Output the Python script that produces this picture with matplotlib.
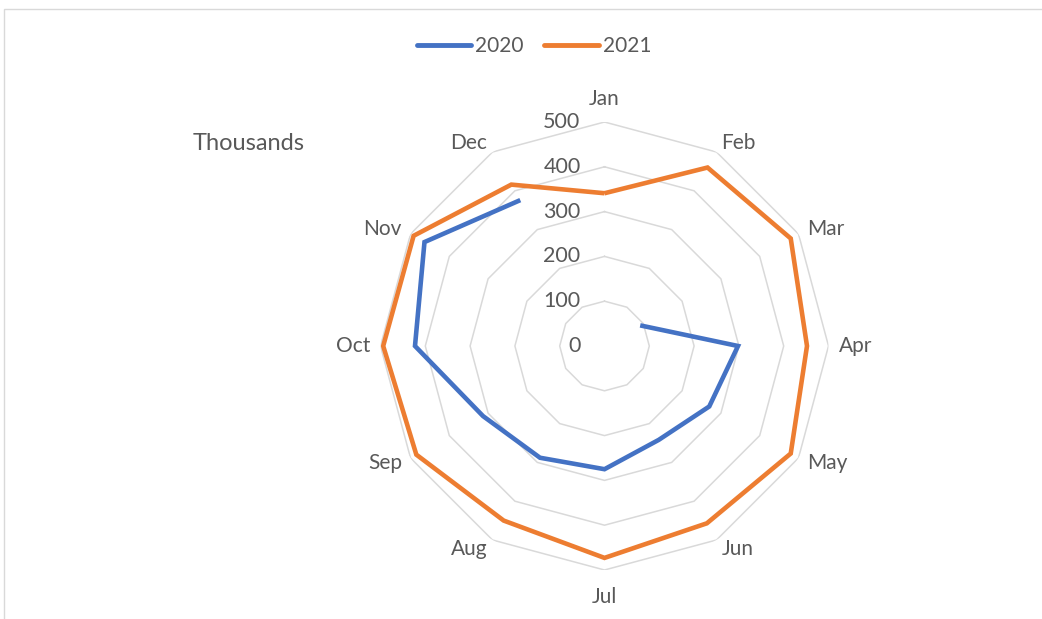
import numpy as np
import matplotlib
matplotlib.use("Agg")
import matplotlib.pyplot as plt
from matplotlib.patches import Rectangle
from matplotlib.lines import Line2D

# Monthly values, in thousands
months = ["Jan", "Feb", "Mar", "Apr", "May", "Jun",
          "Jul", "Aug", "Sep", "Oct", "Nov", "Dec"]
values_2020 = [np.nan, np.nan, 92, 298, 270, 242, 275, 288, 313, 423, 464, 376]
values_2021 = [341, 460, 480, 452, 480, 457, 473, 450, 485, 494, 492, 416]
ring_values = [0, 100, 200, 300, 400, 500]
series_names = ["2020", "2021"]
series_colors = ["#4472C4", "#ED7D31"]

plt.rcParams["font.family"] = ["Lato", "DejaVu Sans"]
text_color = "#595959"
grid_color = "#D9D9D9"

W, H = 1042, 619
fig = plt.figure(figsize=(W / 100, H / 100), dpi=100)
fig.patch.set_facecolor("white")

# Outer chart border (right and bottom edges fall outside the canvas)
fig.patches.append(Rectangle((3.5 / W, -0.1), 1.2, (H - 8.5) / H + 0.1,
                             transform=fig.transFigure, fill=False,
                             edgecolor=grid_color, linewidth=1.0))

cx, cy, rad = 604.5, 346, 224
ax = fig.add_axes([(cx - rad) / W, (H - cy - rad) / H, 2 * rad / W, 2 * rad / H],
                  projection="polar")
ax.set_theta_zero_location("N")
ax.set_theta_direction(-1)
ax.set_ylim(0, ring_values[-1])
ax.grid(False)
ax.spines["polar"].set_visible(False)
ax.set_xticks([])
ax.set_yticks([])
ax.patch.set_alpha(0)

n = len(months)
angles = np.arange(n) * 2 * np.pi / n
closed_angles = np.append(angles, angles[0])

# Polygonal rings
for r in ring_values[1:]:
    ax.plot(closed_angles, [r] * (n + 1), color=grid_color, linewidth=1.1, zorder=1)

# Data series
for vals, color in zip([values_2020, values_2021], series_colors):
    v = np.append(vals, vals[0])
    ax.plot(closed_angles, v, color=color, linewidth=3.3, zorder=3,
            solid_joinstyle="miter", solid_capstyle="butt")

# Radial value labels along the Jan axis
for r in ring_values:
    ax.annotate(str(r), xy=(0, r), xytext=(-24, 0), textcoords="offset pixels",
                ha="right", va="center", fontsize=15.5, color=text_color,
                annotation_clip=False)

# Category labels, anchored just outside the outer ring vertices
r_out = ring_values[-1]
for a, m in zip(angles, months):
    s, c = np.sin(a), np.cos(a)
    if abs(s) < 1e-6:
        ha, dx, dy = "center", 0, (23 if c > 0 else -27)
    else:
        ha = "left" if s > 0 else "right"
        dx, dy = 10 * s, 10 * c
    ax.annotate(m, xy=(a, r_out), xytext=(dx, dy), textcoords="offset pixels",
                ha=ha, va="center", fontsize=15, color=text_color,
                annotation_clip=False)

fig.text(193 / W, 1 - 143 / H, "Thousands", ha="left", va="center",
         fontsize=17, color=text_color)

handles = [Line2D([], [], color=c, linewidth=3.5, solid_capstyle="round")
           for c in series_colors]
fig.legend(handles, series_names, loc="center", bbox_to_anchor=(534 / W, 1 - 46 / H),
           ncol=2, frameon=False, fontsize=15, handlelength=2.6,
           handletextpad=0.2, columnspacing=1.0, labelcolor=text_color)

fig.savefig("out.png", dpi=100)
